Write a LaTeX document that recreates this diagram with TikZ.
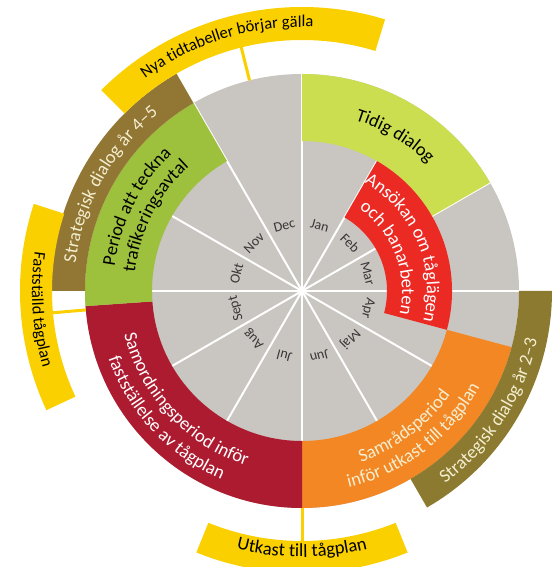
\documentclass[tikz,border=0pt]{standalone}
\usepackage{fontspec}
\setmainfont{Carlito}
\usetikzlibrary{decorations.text}

\definecolor{wheelgrey}{RGB}{201,197,192}
\definecolor{earlygreen}{RGB}{203,222,80}
\definecolor{periodgreen}{RGB}{157,192,61}
\definecolor{dialogbrown}{RGB}{146,118,52}
\definecolor{olivebrown}{RGB}{140,122,48}
\definecolor{planyellow}{RGB}{250,208,0}
\definecolor{samred}{RGB}{173,27,48}
\definecolor{pathred}{RGB}{236,42,36}
\definecolor{consultorange}{RGB}{243,135,36}
\definecolor{creamtext}{RGB}{243,238,208}
\definecolor{monthgrey}{RGB}{55,55,55}

\newcommand{\bandfont}{\fontsize{18.5}{20}\selectfont}
\newcommand{\smallband}{\fontsize{16.5}{18}\selectfont}
% text along an arc: colour, radius, from angle, to angle, text
\newcommand{\arclabel}[5][black]{%
  \path[decorate, decoration={text along path, text align=center,
      text color=#1, text={|\bandfont|#5}}]
    (#3:#2) arc[start angle=#3, end angle=#4, radius=#2];}

\begin{document}
\begin{tikzpicture}[x=1pt, y=1pt,
  ring/.style n args={4}{insert path={(#3:#2) arc[start angle=#3, end angle=#4, radius=#2]
      -- (#4:#1) arc[start angle=#4, end angle=#3, radius=#1] -- cycle}},
  spoke/.style={white, line width=2pt},
  pin/.style={planyellow, line width=3pt},
  month/.style={font=\fontsize{14}{14}\selectfont, text=monthgrey, inner sep=0pt}]
  \useasboundingbox (-302,-276) rectangle (251,291);
  \coordinate (hub) at (0,0);
  \fill[wheelgrey] (hub) circle (217);
  \foreach \a in {0,30,...,330}
    \draw[spoke] (hub) -- (\a:217);
  \fill[white] (hub) circle (3);
  \foreach \m [count=\i, evaluate=\i as \a using 105-30*\i] in
      {Jan,Feb,Mar,Apr,Maj,Jun,Jul,Aug,Sept,Okt,Nov,Dec}
    \node[month, rotate=\a-90] (month-\i) at (\a:68) {\m};

  \fill[earlygreen, ring={150}{217}{90}{30}];
  \fill[pathred, ring={85}{150}{60}{-15}];
  \fill[consultorange, ring={150}{217}{-15}{-90}];
  \fill[samred, ring={150}{217}{184}{270}];
  \fill[periodgreen, ring={150}{217}{120}{184}];
  \fill[dialogbrown, ring={217}{251}{120}{180}];
  \fill[olivebrown, ring={217}{250}{0}{-60}];
  \fill[planyellow, ring={251}{284}{135}{73}];
  \fill[planyellow, ring={250}{282}{162}{205}];
  \fill[planyellow, ring={250}{282}{-112}{-68}];

  \coordinate (newtt-foot) at (104:217);
  \coordinate (newtt-head) at (104:252);
  \coordinate (fixed-foot) at (185:217);
  \coordinate (fixed-head) at (185:251);
  \coordinate (draft-foot) at (270:217);
  \coordinate (draft-head) at (270:251);
  \draw[pin] (newtt-foot) -- (newtt-head);
  \draw[pin] (fixed-foot) -- (fixed-head);
  \draw[pin] (draft-foot) -- (draft-head);

  \arclabel{264}{147}{67}{|\smallband|Nya tidtabeller börjar gälla}
  \arclabel[creamtext]{228}{181}{121}{Strategisk dialog år 4–5}
  \arclabel{270}{160}{208}{|\smallband|Fastställd tågplan}
  \arclabel{189}{185}{121}{Period att teckna}
  \arclabel{168}{185}{121}{trafikeringsavtal}
  \arclabel[white]{183}{188}{258}{Samordningsperiod inför}
  \arclabel[white]{205}{188}{258}{fastställelse av tågplan}
  \arclabel{179}{89}{29}{Tidig dialog}
  \arclabel[white]{125}{64}{-18}{Ansökan om tåglägen}
  \arclabel[white]{100}{58}{-16}{och banarbeten}
  \arclabel[creamtext]{181}{-90}{-16}{Samrådsperiod}
  \arclabel[creamtext]{202}{-92}{-13}{inför utkast till tågplan}
  \arclabel[creamtext]{240}{-62}{-3}{Strategisk dialog år 2–3}
  \arclabel{266}{-115}{-65}{Utkast till tågplan}
\end{tikzpicture}
\end{document}
